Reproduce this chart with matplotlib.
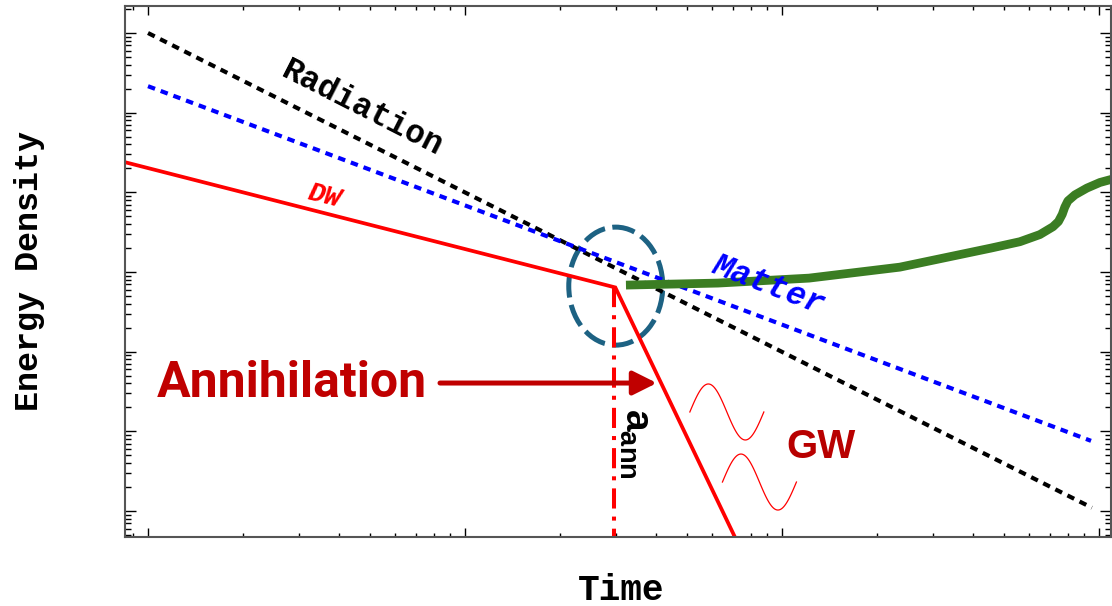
import numpy as np
import matplotlib.pyplot as plt
from matplotlib.patches import Ellipse
from matplotlib.ticker import LogLocator, NullFormatter
from matplotlib.transforms import ScaledTranslation

plt.rcParams['mathtext.fontset'] = 'custom'
plt.rcParams['mathtext.rm'] = 'Liberation Sans:bold'
plt.rcParams['mathtext.it'] = 'Liberation Sans:bold'

# energy density curves (arbitrary units, log-log)
rad_t = [1.0, 950]
rad_rho = [1e6, 1.1]
mat_t = [1.0, 944]
mat_rho = [2.15e5, 7.6]
dw_t = [0.846, 29.8, 75]
dw_rho = [2.39e4, 640, 0.30]
a_ann = 29.6

# green curve after annihilation
gw_t = [32.2, 62.8, 121.7, 235.5, 456, 563, 651, 716, 745, 766, 780, 798, 840, 916, 1007, 1122]
gw_rho = [685, 726, 838, 1151, 1995, 2400, 2950, 3700, 4300, 5300, 6500, 7800, 9300, 11300, 13300, 14950]

# little GW wiggles (centres)
wave_t = [67.0, 84.9]
wave_rho = [17.5, 2.31]

xlim = (10**-0.0726, 10**3.038)
ylim = (10**-0.326, 10**6.339)

fig = plt.figure(figsize=(11.12, 6.06), dpi=100)
ax = fig.add_axes([0.1124, 0.1139, 0.8867, 0.8762])
ax.set_xscale('log')
ax.set_yscale('log')
ax.set_xlim(xlim)
ax.set_ylim(ylim)

ax.plot(rad_t, rad_rho, color='black', lw=3.0, dashes=(1.8, 1.45), dash_capstyle='butt')
ax.plot(mat_t, mat_rho, color='#0000ff', lw=3.0, dashes=(1.8, 1.45), dash_capstyle='butt')
ax.plot(dw_t, dw_rho, color='#ff0000', lw=2.7, solid_joinstyle='miter')
ax.plot([a_ann, a_ann], [dw_rho[1], 0.3], color='#ff0000', lw=2.9,
        dashes=(5, 2, 1, 2), dash_capstyle='butt')
ax.plot(gw_t, gw_rho, color='#3b7d23', lw=6.3, solid_capstyle='butt',
        solid_joinstyle='round')

# dashed circle around annihilation point
el_tr = fig.dpi_scale_trans + ScaledTranslation(29.9, 665, ax.transData)
ax.add_patch(Ellipse((0, 0), 0.94, 1.18, transform=el_tr, fill=False,
                     edgecolor='#1d6283', lw=3.6, linestyle=(1, (4.6, 1.5))))

# GW wiggles
wx = np.linspace(-0.37, 0.37, 100)
wy = 0.28 * np.sin(2 * np.pi * (wx + 0.37) / 0.74)
for t, r in zip(wave_t, wave_rho):
    tr = fig.dpi_scale_trans + ScaledTranslation(t, r, ax.transData)
    ax.plot(wx, wy, transform=tr, color='#ff0000', lw=0.9)

# labels
mono = 'Liberation Mono'
ax.text(4.73, 1.14e5, 'Radiation', family=mono, weight='bold', fontsize=23.5,
        rotation=-27, ha='center', va='center')
ax.text(90.3, 685, 'Matter', family=mono, weight='bold', style='italic',
        fontsize=23.5, color='#0000ff', rotation=-21, ha='center', va='center')
ax.text(3.59, 8960, 'DW', family=mono, weight='bold', style='italic',
        fontsize=20, color='#ff0000', rotation=-14, ha='center', va='center')

ax.text(7.59, 26.9, 'Annihilation', family='Roboto', weight='bold', fontsize=36,
        color='#c00000', ha='right', va='baseline')
ax.annotate('', xy=(40.3, 40.4), xytext=(8.34, 40.4),
            arrowprops=dict(arrowstyle='-|>,head_length=0.8,head_width=0.4',
                            mutation_scale=18, lw=3.6, color='#c00000',
                            shrinkA=0, shrinkB=0))
ax.text(34.6, 7.0, r'$\mathrm{a}_{\mathrm{ann}}$', fontsize=28, rotation=-90,
        ha='center', va='center')
ax.text(132.7, 4.62, 'GW', family='Liberation Sans', weight='bold', fontsize=29,
        color='#b80000', ha='center', va='baseline')

fig.text(30 / 1112, 1 - 271 / 606, 'Energy Density', family=mono, weight='bold',
         fontsize=24, rotation=90, ha='center', va='center')
fig.text(621 / 1112, 1 - 590 / 606, 'Time', family=mono, weight='bold',
         fontsize=26, ha='center', va='center')

# Mathematica-like frame
for s in ax.spines.values():
    s.set_color('#555555')
    s.set_linewidth(1.5)
for axis in (ax.xaxis, ax.yaxis):
    axis.set_major_locator(LogLocator(base=10, numticks=100))
    axis.set_minor_locator(LogLocator(base=10, subs=np.arange(2, 10), numticks=100))
    axis.set_major_formatter(NullFormatter())
    axis.set_minor_formatter(NullFormatter())
ax.tick_params(which='both', direction='in', top=True, right=True, color='black', width=1.0)
ax.tick_params(axis='x', which='major', length=6.5)
ax.tick_params(axis='x', which='minor', length=3.2)
ax.tick_params(axis='y', which='major', length=8)
ax.tick_params(axis='y', which='minor', length=4)
ax.set_xlim(xlim)
ax.set_ylim(ylim)

fig.savefig('out.png', dpi=100)
